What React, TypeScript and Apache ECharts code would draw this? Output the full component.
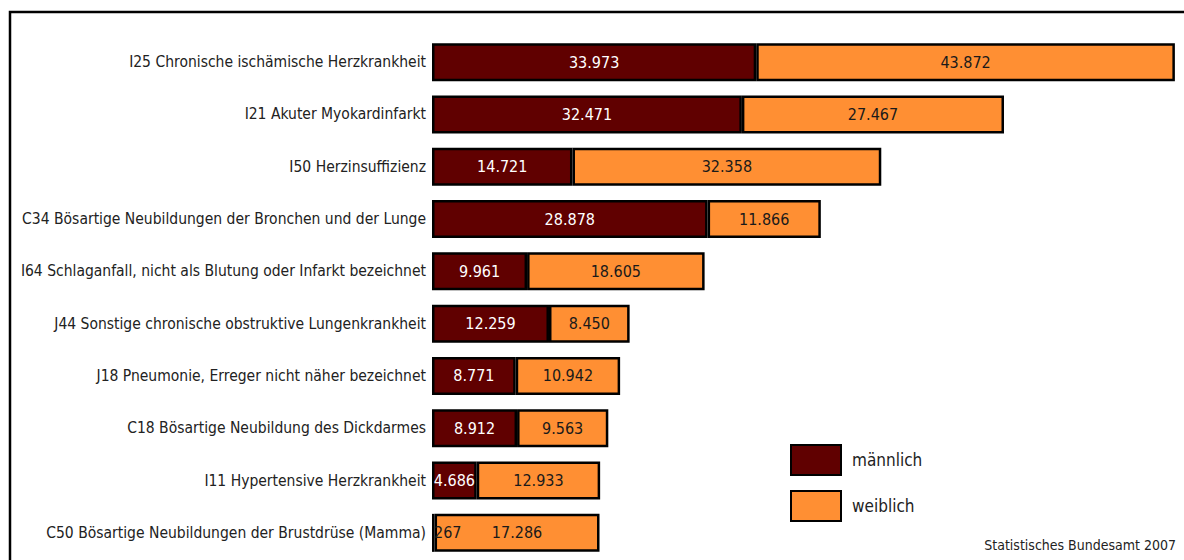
import React, { useEffect, useRef } from "react";
import * as echarts from "echarts";

const categories = [
  "I25 Chronische ischämische Herzkrankheit",
  "I21 Akuter Myokardinfarkt",
  "I50 Herzinsuffizienz",
  "C34 Bösartige Neubildungen der Bronchen und der Lunge",
  "I64 Schlaganfall, nicht als Blutung oder Infarkt bezeichnet",
  "J44 Sonstige chronische obstruktive Lungenkrankheit",
  "J18 Pneumonie, Erreger nicht näher bezeichnet",
  "C18 Bösartige Neubildung des Dickdarmes",
  "I11 Hypertensive Herzkrankheit",
  "C50 Bösartige Neubildungen der Brustdrüse (Mamma)",
];
const maleValues = [33973, 32471, 14721, 28878, 9961, 12259, 8771, 8912, 4686, 267];
const femaleValues = [43872, 27467, 32358, 11866, 18605, 8450, 10942, 9563, 12933, 17286];
const seriesNames = ["männlich", "weiblich"];
const sourceText = "Statistisches Bundesamt 2007";

const FONT = "'DejaVu Sans Condensed', 'Liberation Sans Narrow', sans-serif";

function fmt(v: number): string {
  if (v >= 1000) {
    const th = Math.floor(v / 1000);
    const rest = String(v % 1000).padStart(3, "0");
    return th + "." + rest;
  }
  return String(v);
}

export default function App() {
  const ref = useRef<HTMLDivElement>(null);
  useEffect(() => {
    if (!ref.current) return;
    const chart = echarts.init(ref.current, null, { renderer: "svg" });
    const maleData = maleValues.map((v) =>
      v < 1000
        ? {
            value: v,
            label: {
              position: "insideLeft",
              offset: [-3, 0],
              color: "#1a1a1a",
            },
          }
        : v
    );
    chart.setOption({
      animation: false,
      backgroundColor: "#ffffff",
      grid: {
        left: 432,
        top: 36,
        width: 752,
        height: 523,
        containLabel: false,
        outerBoundsMode: "none",
      },
      xAxis: {
        type: "value",
        min: 0,
        max: 78800,
        show: false,
      },
      yAxis: {
        type: "category",
        data: categories,
        inverse: true,
        axisLine: { show: false },
        axisTick: { show: false },
        axisLabel: {
          color: "#222",
          fontFamily: FONT,
          fontSize: 15.5,
          margin: 6,
        },
      },
      legend: {
        data: seriesNames.map((n) => ({ name: n, icon: "rect" })),
        orient: "vertical",
        left: 790,
        top: 444,
        padding: 0,
        itemWidth: 50,
        itemHeight: 30,
        itemGap: 14,
        textStyle: { fontFamily: FONT, fontSize: 17, color: "#222", padding: [0, 0, 0, 6] },
        selectedMode: false,
      },
      graphic: [
        {
          type: "rect",
          shape: { x: 10, y: 12, width: 1300, height: 700 },
          style: { fill: "none", stroke: "#000", lineWidth: 2.5 },
          silent: true,
        },
        {
          type: "text",
          right: 8,
          top: 538,
          style: {
            text: sourceText,
            fill: "#222",
            font: "14px " + FONT,
          },
        },
      ],
      series: [
        {
          name: seriesNames[0],
          type: "bar",
          stack: "total",
          barWidth: 38,
          data: maleData,
          itemStyle: { color: "#600000", borderColor: "#000", borderWidth: 2.5 },
          label: {
            show: true,
            position: "inside",
            color: "#ffffff",
            fontFamily: FONT,
            fontSize: 16,
            formatter: (p: any) => fmt(p.value),
          },
        },
        {
          name: seriesNames[1],
          type: "bar",
          stack: "total",
          barWidth: 38,
          data: femaleValues,
          itemStyle: { color: "#FF8F33", borderColor: "#000", borderWidth: 2.5 },
          label: {
            show: true,
            position: "inside",
            color: "#1a1a1a",
            fontFamily: FONT,
            fontSize: 16,
            formatter: (p: any) => fmt(p.value),
          },
        },
      ],
    });
    return () => chart.dispose();
  }, []);
  return <div ref={ref} style={{ width: 1184, height: 560, position: "absolute", left: 0, top: 0 }} />;
}
